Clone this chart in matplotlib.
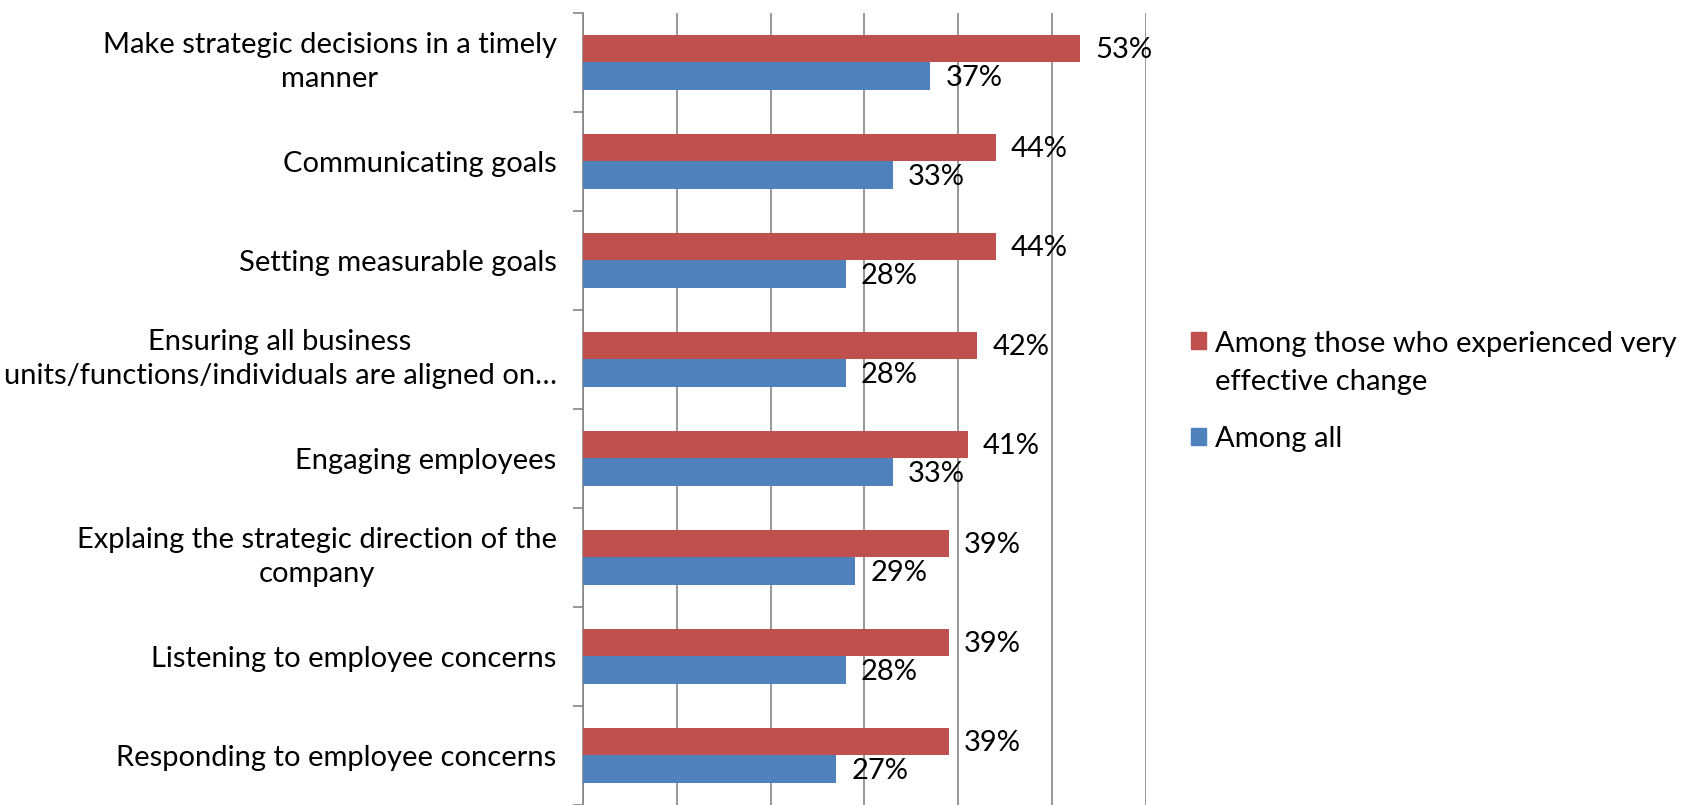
import numpy as np
import matplotlib.pyplot as plt
from matplotlib.patches import Patch, Rectangle
from matplotlib.legend_handler import HandlerPatch

plt.rcParams['font.family'] = ['Lato', 'DejaVu Sans']

categories = [
    'Make strategic decisions in a timely\nmanner',
    'Communicating goals',
    'Setting measurable goals',
    'Ensuring all business\nunits/functions/individuals are aligned on\u2026',
    'Engaging employees',
    'Explaing the strategic direction of the\ncompany',
    'Listening to employee concerns',
    'Responding to employee concerns',
]
very_effective = [0.53, 0.44, 0.44, 0.42, 0.41, 0.39, 0.39, 0.39]
among_all = [0.37, 0.33, 0.28, 0.28, 0.33, 0.29, 0.28, 0.27]
series_names = ['Among those who experienced very\neffective change', 'Among all']

red = '#C0504D'
blue = '#4F81BD'
fs = 21
ls = 1.38

fig = plt.figure(figsize=(16.85, 8.05), dpi=100)
ax = fig.add_axes([0.346, 0.0, 0.334, 0.984])

y = np.arange(len(categories))
h = 0.28
ax.barh(y - h / 2, very_effective, height=h, color=red, zorder=3)
ax.barh(y + h / 2, among_all, height=h, color=blue, zorder=3)

for yi, v in zip(y, very_effective):
    ax.annotate(f'{v:.0%}', (v, yi - h / 2), xytext=(11, -1), textcoords='offset points',
                va='center', ha='left', fontsize=fs, zorder=4)
for yi, v in zip(y, among_all):
    ax.annotate(f'{v:.0%}', (v, yi + h / 2), xytext=(11, -1), textcoords='offset points',
                va='center', ha='left', fontsize=fs, zorder=4)

ax.set_xlim(0, 0.6)
ax.set_ylim(len(categories) - 0.5, -0.5)
ax.set_xticks(np.arange(0, 0.61, 0.1))
ax.xaxis.grid(True, color='#868686', linewidth=1.2, zorder=0)
ax.tick_params(axis='x', length=0, labelbottom=False)

# category labels sit between minor ticks at the boundaries
ax.set_yticks(y)
ax.set_yticklabels(categories, fontsize=fs, multialignment='center', linespacing=ls)
for t in ax.get_yticklabels():
    if '\n' in t.get_text():
        t.set_va('center')
ax.tick_params(axis='y', which='major', length=0, pad=19)
ax.set_yticks(np.arange(-0.5, len(categories)), minor=True)
ax.tick_params(axis='y', which='minor', length=7, color='#868686', width=1.2)

for s in ['top', 'right', 'bottom']:
    ax.spines[s].set_visible(False)
ax.spines['left'].set_color('#868686')
ax.spines['left'].set_linewidth(1.2)


def top_square(legend, orig_handle, xdescent, ydescent, width, height, fontsize):
    # keep the key next to the first line of a two-line label
    return Rectangle((-xdescent, -ydescent + 0.78 * fontsize), width, height)


handles = [Patch(color=red), Patch(color=blue)]
leg = fig.legend(handles, series_names, loc='upper left', bbox_to_anchor=(0.707, 0.589),
                 frameon=False, fontsize=fs, handlelength=0.52, handleheight=0.52,
                 handletextpad=0.3, labelspacing=1.05, borderpad=0, borderaxespad=0,
                 handler_map={handles[0]: HandlerPatch(patch_func=top_square)})
for t in leg.get_texts():
    t.set_linespacing(1.6)

fig.savefig('out.png', dpi=100)
